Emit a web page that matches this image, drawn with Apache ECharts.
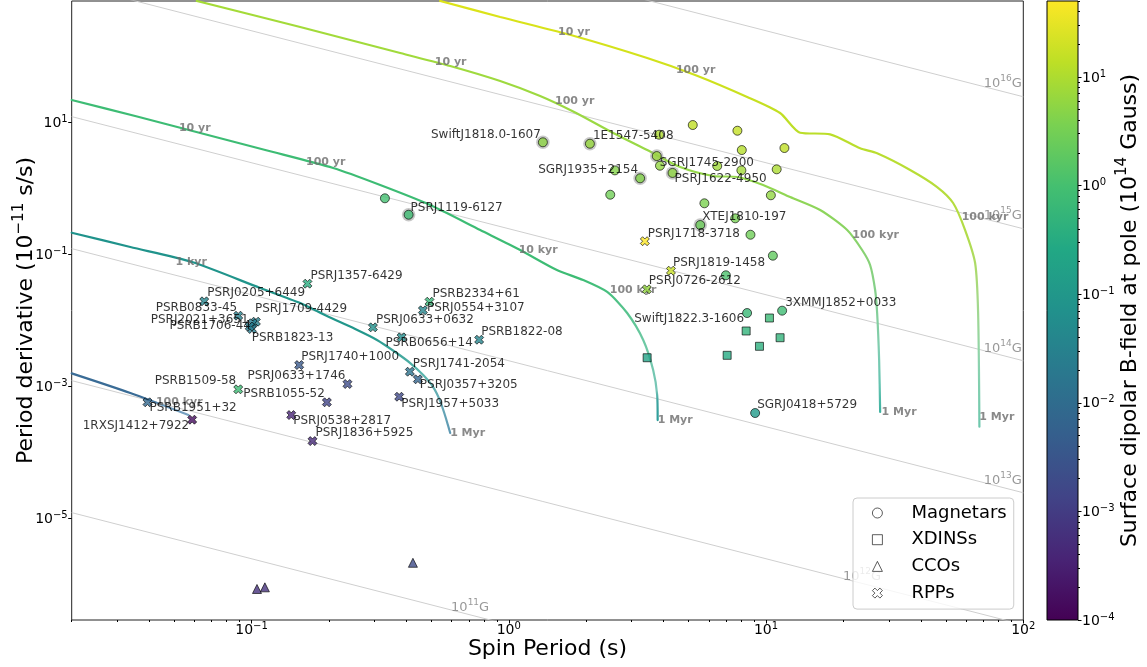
<!DOCTYPE html>
<html><head><meta charset="utf-8">
<script src="https://cdn.jsdelivr.net/npm/echarts@6.0.0/dist/echarts.min.js"></script>
<style>html,body{margin:0;padding:0;background:#fff}#c{width:1147px;height:667px}</style>
</head><body><div id="c"></div>
<script>
// ---------------- DATA ----------------
// Magnetars (P in s, Pdot in 1e-11 s/s, B in 1e14 G at pole)
const magName  = ['SwiftJ1818.0-1607','1E1547-5408','SGRJ1935+2154','SGRJ1745-2900','PSRJ1622-4950','XTEJ1810-197','PSRJ1119-6127','SwiftJ1822.3-1606','3XMMJ1852+0033','SGRJ0418+5729','','','','','','','','','','','','','','','','','',''];
const magP     = [1.357,2.067,3.24,3.76,4.33,5.55,0.408,8.44,11.55,9.07, 3.84,5.19,7.74,8.05,11.0,11.79,3.87,6.46,8.02,2.585,2.48,10.44,5.76,7.59,8.7,10.63,6.98,0.33];
const magPdot  = [4.98,4.74,1.418,3.08,1.71,0.278,0.398,0.0129,0.0140,0.000394, 6.49,9.1,7.46,3.8,1.94,4.08,2.2,2.18,1.87,1.87,0.8,0.784,0.593,0.351,0.198,0.0953,0.0481,0.706];
const magB     = [5.3,6.3,4.3,6.9,5.5,2.5,0.82,0.67,0.81,0.12, 10.1,13.9,15.4,11.2,9.4,14.0,5.9,7.6,7.8,4.5,2.85,5.8,3.7,3.3,2.7,2.0,1.17,0.98];
const magHalo  = [1,1,1,1,1,1,1,0,0,0, 0,0,0,0,0,0,0,0,0,0,0,0,0,0,0,0,0,0];

// XDINSs
const xdP    = [10.31,8.37,11.34,9.43,7.06,3.45];
const xdPdot = [0.01084,0.00689,0.00545,0.00404,0.00295,0.00271];
const xdB    = [0.68,0.49,0.50,0.40,0.29,0.20];

// CCOs
const ccoP    = [0.105,0.1127,0.424];
const ccoPdot = [8.5e-7,9.0e-7,2.12e-6];
const ccoB    = [6.0e-4,6.4e-4,1.9e-3];

// RPPs
const rppName = ['PSRJ1357-6429','PSRJ0205+6449','PSRB0833-45','PSRJ1709-4429','PSRJ2021+3651','PSRB1706-44','PSRB1823-13','PSRJ0633+0632','PSRB0656+14','PSRB2334+61','PSRJ0554+3107','PSRJ1740+1000','PSRJ0633+1746','PSRB1509-58','PSRB1055-52','PSRJ1741-2054','PSRJ0357+3205','PSRJ1957+5033','PSRJ0538+2817','PSRJ1836+5925','PSRB1951+32','1RXSJ1412+7922','PSRB1822-08','PSRJ1718-3718','PSRJ1819-1458','PSRJ0726-2612'];
const rppP    = [0.165,0.0655,0.0888,0.104,0.101,0.1004,0.0984,0.2965,0.383,0.4918,0.4636,0.1532,0.236,0.0888,0.1963,0.4126,0.4432,0.375,0.1427,0.1726,0.0394,0.0588,0.767,3.38,4.27,3.44];
const rppPdot = [0.0359,0.0194,0.01175,0.00953,0.00902,0.00738,0.00805,0.00783,0.00552,0.01914,0.01419,0.0021,0.001084,0.000901,0.000573,0.001664,0.001277,0.000695,0.000367,0.000148,0.000573,0.000312,0.00508,0.158,0.0565,0.0295];
const rppB    = [0.34,0.037,0.028,0.028,0.024,0.024,0.024,0.07,0.055,0.58,0.037,0.0035,0.002,0.75,0.0014,0.0146,0.0066,0.0018,0.00037,0.00048,0.0076,0.00015,0.037,50,17,6];

// Evolutionary tracks
const track1P    = [0.02,0.0338,0.0569];
const track1Pdot = [1.57e-3,7.91e-4,3.67e-4];
const track2P    = [0.02,0.0338,0.0587,0.108,0.1546,0.1964,0.2529,0.3073,0.3619,0.4138,0.4649,0.5084,0.5413,0.5661,0.5815,0.5921];
const track2Pdot = [0.2125,0.129,0.0764,0.0309,0.01828,0.01161,0.00738,0.00504,0.00331,0.002254,0.001483,0.000975,0.000598,0.000355,0.00025,0.000196];
const track3P    = [0.02,0.0353,0.0632,0.1131,0.2077,0.3164,0.495,0.7743,1.107,1.538,1.946,2.413,2.885,3.331,3.641,3.774,3.791];
const track3Pdot = [21.8,12.46,6.88,3.80,2.03,1.122,0.558,0.2334,0.1162,0.0578,0.0408,0.0269,0.0129,0.00504,0.001766,0.000738,0.000308];
const track4P    = [0.0613,0.1546,0.3784,0.5921,0.926,1.324,1.796,2.546,3.451,4.637,6.23,7.72,9.74,12.41,16.23,20.67,23.63,25.38,26.55,27.03,27.52,27.77];
const track4Pdot = [689,278,112.2,71.3,42.2,25.0,14.3,6.88,3.80,2.10,1.536,1.483,1.122,0.738,0.469,0.2334,0.1162,0.0689,0.0288,0.0129,0.0025,0.000408];
const track5P    = [0.5413,0.926,1.796,3.451,5.30,8.445,11.34,13.57,17.75,23.21,27.03,36.32,46.24,53.36,59.4,64.97,66.74,67.51];
const track5Pdot = [689,394,203,94.2,52.1,24.2,13.83,6.96,6.58,4.04,3.39,1.894,1.046,0.599,0.2334,0.0738,0.0129,0.000244];

// Age labels along tracks
const ageText = ['100 kyr','1 kyr','1 Myr','10 yr','100 yr','10 kyr','100 kyr','1 Myr','10 yr','100 yr','100 kyr','1 Myr','10 yr','100 yr','100 kyr','1 Myr'];
const ageP    = [0.0524,0.0583,0.692,0.0602,0.1943,1.301,3.044,4.434,0.5944,1.804,26.67,32.9,1.792,5.325,71.0,78.9];
const agePdot = [5.85e-4,0.0764,1.94e-4,8.28,2.477,0.1162,0.0288,3.09e-4,81.1,21.0,0.196,4.12e-4,236,62.0,0.3713,3.46e-4];

// Constant-B lines (10^11 ... 10^16 G), end points
const bLineExp      = [11,12,13,14,15,16];
const bLineP        = [0.02,100];
const bLineStartPdot= [1.22e-5,1.22e-3,0.122,12.2,1220,1.22e5];
const bLineEndPdot  = [2.44e-9,2.44e-7,2.44e-5,2.44e-3,0.244,24.4];
const bLabelP       = [0.839,28.0,98.7,98.7,98.7,98.7];
const bLabelPdot    = [4.69e-7,1.38e-6,3.94e-5,0.00398,0.408,41.2];

// Axis ticks
const xMajor = [-1,0,1,2];
const yMajor = [-5,-3,-1,1];
const cbMajor = [-4,-3,-2,-1,0,1];
const X_MIN = 0.02, X_MAX = 100, Y_MIN = 2.88e-7, Y_MAX = 689, CB_MIN = 1e-4, CB_MAX = 50;

// ---------------- STYLE / LAYOUT ----------------
const F = 'DejaVu Sans';
const lg = Math.log10;
const magLab = [[-2,-7,'right'],[3,-8,'left'],[-2,-8,'right'],[3,7,'left'],[2,6,'left'],[2,-8,'left'],[2,-7,'left'],[-3,6,'right'],[3,-8,'left'],[2,-8,'left']];
const rppLab = [[3,-8,'left'],[3,-8,'left'],[-1,-8,'right'],[-1,-13,'left'],[-4,-3,'right'],[-1,-3,'right'],[2,11,'left'],[3,-7,'left'],[-16,6,'left'],[3,-8,'left'],[4,-2,'left'],[2,-8,'left'],[-2,-8,'right'],[-2,-8,'right'],[-2,-8,'right'],[3,-8,'left'],[2,6,'left'],[2,7,'left'],[2,6,'left'],[3,-8,'left'],[2,6,'left'],[-3,6,'right'],[2,-8,'left'],[3,-7,'left'],[2,-8,'left'],[2,-8,'left']];
const VIR = ['#440154','#482475','#414487','#355f8d','#2a788e','#21918c','#22a884','#44bf70','#7ad151','#bddf26','#fde725'];
function h2r(h){return [parseInt(h.slice(1,3),16),parseInt(h.slice(3,5),16),parseInt(h.slice(5,7),16)];}
function viridis(t){t=Math.max(0,Math.min(1,t));const s=t*10;const i=Math.min(9,Math.floor(s));const f=s-i;const a=h2r(VIR[i]),b=h2r(VIR[i+1]);
  return 'rgb('+a.map((v,k)=>Math.round(v+(b[k]-v)*f)).join(',')+')';}
function bColor(B){return viridis((lg(B)-lg(CB_MIN))/(lg(CB_MAX)-lg(CB_MIN)));}
const trackStops = [
  [[0,'#3a6c96'],[0.6,'#3a6c96'],[0.75,'#6e9bbd'],[1,'#7aa3c2']],
  [[0,'#1f928b'],[0.5,'#22978b'],[0.7,'#5bb5ad'],[0.85,'#68a9b7'],[1,'#5d97b3']],
  [[0,'#3dbc74'],[0.55,'#3dbc74'],[0.75,'#6dc9a3'],[0.9,'#78c6b8'],[0.93,'#3fa5a0'],[1,'#2a9d9a']],
  [[0,'#a5db36'],[0.4,'#97d848'],[0.55,'#8ad462'],[0.7,'#86d08b'],[0.85,'#7fcdb3'],[0.93,'#63c3b0'],[1,'#3cb09f']],
  [[0,'#dde318'],[0.2,'#cde11d'],[0.3,'#bcde27'],[0.55,'#b2dc4a'],[0.7,'#a5d98a'],[0.85,'#8cd3b0'],[1,'#6cc7ad']]
];
function grad(st){return new echarts.graphic.LinearGradient(0,0,0,1,st.map(s=>({offset:s[0],color:s[1]})));}
function supTxt(n){return n<0?'\u2212'+Math.abs(n):''+n;}
const tickRich = {b:{fontSize:14,fontFamily:F,color:'#000',lineHeight:16,verticalAlign:'bottom'},s:{fontSize:10,fontFamily:F,color:'#000',lineHeight:10,verticalAlign:'top'}};
const powFmt = v => '{b|10}{s|'+supTxt(Math.round(v))+'}';
function minorTicks(lo,hi){const r=[];for(let n=Math.floor(lo)-1;n<=Math.ceil(hi);n++){for(let k=2;k<=9;k++){const v=n+lg(k);if(v>=lo-1e-9&&v<=hi+1e-9)r.push(v);}}return r;}

const GRID = {left:71.7, right:123.7, top:1, bottom:47, outerBoundsMode:'none', containLabel:false};
const CBGRID = {left:1047, width:31, top:1, bottom:47, outerBoundsMode:'none', containLabel:false};
const xr=[lg(X_MIN),lg(X_MAX)], yr=[lg(Y_MIN),lg(Y_MAX)], cr=[lg(CB_MIN),lg(CB_MAX)];
function pt(p,d){return [lg(p),lg(d)];}
function lab(txt,pos){ if(!txt) return {show:false};
  return {show:true,formatter:txt,position:'inside',align:pos[2],verticalAlign:'middle',offset:[pos[0],pos[1]],fontSize:12,fontFamily:F,color:'#000'};}

const series = [];
bLineExp.forEach((e,i)=>{
  series.push({type:'line',xAxisIndex:0,yAxisIndex:0,silent:true,symbol:'none',z:1,
    lineStyle:{color:'#cfcfcf',width:1},data:[pt(bLineP[0],bLineStartPdot[i]),pt(bLineP[1],bLineEndPdot[i])]});
});
series.push({type:'scatter',xAxisIndex:0,yAxisIndex:0,silent:true,symbolSize:1,z:2,itemStyle:{color:'rgba(0,0,0,0)'},
  data:bLineExp.map((e,i)=>({value:pt(bLabelP[i],bLabelPdot[i]),
    label:{show:true,position:'inside',align:'right',verticalAlign:'middle',formatter:'{b|10}{s|'+e+'}{b|G}',
      rich:{b:{fontSize:13,fontFamily:F,color:'#808080',lineHeight:16,verticalAlign:'bottom'},s:{fontSize:9,fontFamily:F,color:'#808080',lineHeight:9,verticalAlign:'top'}}}}))});
const trP=[track1P,track2P,track3P,track4P,track5P], trD=[track1Pdot,track2Pdot,track3Pdot,track4Pdot,track5Pdot];
trP.forEach((P,k)=>{
  series.push({type:'line',xAxisIndex:0,yAxisIndex:0,silent:true,symbol:'none',smooth:0.25,z:3,
    lineStyle:{width:2.2,color:grad(trackStops[k]),cap:'round'},data:P.map((p,i)=>pt(p,trD[k][i]))});
});
series.push({type:'scatter',xAxisIndex:0,yAxisIndex:0,silent:true,symbolSize:1,z:4,itemStyle:{color:'rgba(0,0,0,0)'},
  label:{show:true,position:'inside',align:'center',verticalAlign:'middle',fontSize:11,fontWeight:'bold',fontFamily:F,color:'#6b6b6b',formatter:p=>p.name},
  data:ageText.map((t,i)=>({name:t,value:pt(ageP[i],agePdot[i])}))});
series.push({type:'scatter',xAxisIndex:0,yAxisIndex:0,silent:true,symbol:'circle',symbolSize:13.5,z:5,
  itemStyle:{color:'rgba(150,150,150,0.65)'},
  data:magP.map((p,i)=>magHalo[i]?pt(p,magPdot[i]):null).filter(v=>v)});
const XSYM='path://M0.25,0 L0.5,0.25 L0.75,0 L1,0.25 L0.75,0.5 L1,0.75 L0.75,1 L0.5,0.75 L0.25,1 L0,0.75 L0.25,0.5 L0,0.25 Z';
const edge={borderColor:'#000',borderWidth:0.8};
series.push({name:'Magnetars',type:'scatter',xAxisIndex:0,yAxisIndex:0,symbol:'circle',symbolSize:9,z:6,itemStyle:Object.assign({color:'#fff'},edge),
  data:magP.map((p,i)=>({value:pt(p,magPdot[i]),itemStyle:Object.assign({color:bColor(magB[i])},edge),label:lab(magName[i],magLab[i]||[0,0,'left'])}))});
series.push({name:'XDINSs',type:'scatter',xAxisIndex:0,yAxisIndex:0,symbol:'rect',symbolSize:8,z:6,itemStyle:Object.assign({color:'#fff'},edge),
  data:xdP.map((p,i)=>({value:pt(p,xdPdot[i]),itemStyle:Object.assign({color:bColor(xdB[i])},edge)}))});
series.push({name:'CCOs',type:'scatter',xAxisIndex:0,yAxisIndex:0,symbol:'triangle',symbolSize:9,z:6,itemStyle:Object.assign({color:'#fff'},edge),
  data:ccoP.map((p,i)=>({value:pt(p,ccoPdot[i]),itemStyle:Object.assign({color:bColor(ccoB[i])},edge)}))});
series.push({name:'RPPs',type:'scatter',xAxisIndex:0,yAxisIndex:0,symbol:XSYM,symbolSize:9,z:6,itemStyle:Object.assign({color:'#fff'},edge),
  data:rppP.map((p,i)=>({value:pt(p,rppPdot[i]),itemStyle:Object.assign({color:bColor(rppB[i])},edge),label:lab(rppName[i],rppLab[i])}))});
const cbStops = VIR.slice().reverse().map((c,i)=>({offset:i/10,color:c}));
series.push({type:'custom',xAxisIndex:2,yAxisIndex:2,silent:true,z:2,encode:{x:0,y:[1,2]},
  data:[[0,cr[0],cr[1]]],
  renderItem:function(params,api){
    const a=api.coord([0,api.value(2)]), b=api.coord([1,api.value(1)]);
    return {type:'rect',shape:{x:a[0],y:a[1],width:b[0]-a[0],height:b[1]-a[1]},
      style:{fill:new echarts.graphic.LinearGradient(0,0,0,1,cbStops),stroke:'#000',lineWidth:1}};
  }});

const noLine = {show:false,onZero:false};
const nameRich = {b:{fontSize:22,fontFamily:F,color:'#000',lineHeight:26,verticalAlign:'bottom'},s:{fontSize:15,fontFamily:F,color:'#000',lineHeight:15,verticalAlign:'top'}};
const option = {
  animation:false,
  backgroundColor:'#fff',
  grid:[
    Object.assign({show:true,borderColor:'#222',borderWidth:1,backgroundColor:'transparent'},GRID),
    Object.assign({},GRID),
    Object.assign({},CBGRID),
    Object.assign({},CBGRID)
  ],
  legend:{data:['Magnetars','XDINSs','CCOs','RPPs'].map(n=>({name:n,itemStyle:{color:'#fff',borderColor:'#000',borderWidth:0.8}})),
    orient:'vertical',left:853,top:498,itemWidth:10,itemHeight:10,itemGap:6.7,selectedMode:false,
    padding:[5,7,6,19],backgroundColor:'rgba(255,255,255,0.8)',borderColor:'#cccccc',borderWidth:1,borderRadius:4,
    textStyle:{fontSize:18,fontFamily:F,color:'#000',lineHeight:20,padding:[0,0,0,24]}},
  xAxis:[
    {gridIndex:0,type:'value',min:xr[0],max:xr[1],splitLine:{show:false},axisLine:noLine,
      axisTick:{show:true,customValues:xMajor,length:3.5,lineStyle:{color:'#000'}},
      axisLabel:{customValues:xMajor,formatter:powFmt,rich:tickRich,margin:1},
      name:'Spin Period (s)',nameLocation:'middle',nameGap:18,nameMoveOverlap:false,nameTextStyle:{fontSize:22,fontFamily:F,color:'#000'}},
    {gridIndex:1,type:'value',position:'bottom',min:xr[0],max:xr[1],splitLine:{show:false},axisLine:noLine,
      axisTick:{show:true,customValues:minorTicks(xr[0],xr[1]),length:2,lineStyle:{color:'#000'}},axisLabel:{show:false}},
    {gridIndex:2,type:'value',min:0,max:1,show:false,axisLine:noLine},
    {gridIndex:3,type:'value',min:0,max:1,show:false,axisLine:noLine}
  ],
  yAxis:[
    {gridIndex:0,type:'value',min:yr[0],max:yr[1],splitLine:{show:false},axisLine:noLine,
      axisTick:{show:true,customValues:yMajor,length:3.5,lineStyle:{color:'#000'}},
      axisLabel:{customValues:yMajor,formatter:powFmt,rich:tickRich,margin:4},
      name:'{b|Period derivative (10}{s|\u221211}{b| s/s)}',nameLocation:'middle',nameRotate:90,nameGap:34,nameMoveOverlap:false,
      nameTextStyle:{rich:nameRich}},
    {gridIndex:1,type:'value',min:yr[0],max:yr[1],show:false,splitLine:{show:false},axisLine:noLine,
      axisTick:{show:false},axisLabel:{show:false}},
    {gridIndex:2,type:'value',position:'right',min:cr[0],max:cr[1],splitLine:{show:false},axisLine:noLine,
      axisTick:{show:true,customValues:cbMajor,length:3.5,lineStyle:{color:'#000'}},
      axisLabel:{customValues:cbMajor,formatter:powFmt,rich:tickRich,margin:4},
      name:'{b|Surface dipolar B-field at pole (10}{s|14}{b| Gauss)}',nameLocation:'middle',nameRotate:90,nameGap:37,nameMoveOverlap:false,
      nameTextStyle:{rich:nameRich}},
    {gridIndex:3,type:'value',position:'right',min:cr[0],max:cr[1],splitLine:{show:false},axisLine:noLine,
      axisTick:{show:true,customValues:minorTicks(cr[0],cr[1]),length:2,lineStyle:{color:'#000'}},axisLabel:{show:false}}
  ],
  series:series
};
const chart = echarts.init(document.getElementById('c'),null,{renderer:'canvas'});
chart.setOption(option);
</script></body></html>
